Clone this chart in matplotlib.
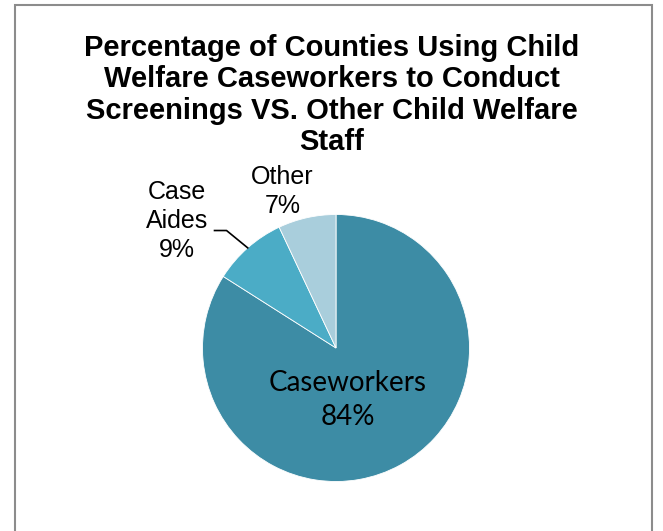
import numpy as np
import matplotlib
matplotlib.use("Agg")
from matplotlib import pyplot as plt
from matplotlib.patches import Rectangle

# data
labels = ["Caseworkers", "Case\nAides", "Other"]
values = [84, 9, 7]
colors = ["#3d8ca5", "#4bacc6", "#a9cedc"]

title = ("Percentage of Counties Using Child\nWelfare Caseworkers to Conduct\n"
         "Screenings VS. Other Child Welfare\nStaff")

W, H = 663, 531
fig = plt.figure(figsize=(W / 100, H / 100), dpi=100)

# chart frame
fig.patches.append(Rectangle((15 / W, -0.05), (652 - 15) / W, 1.05 - 5 / H,
                             transform=fig.transFigure, fill=False,
                             edgecolor="#8c8c8c", linewidth=1.5))

fig.text(0.5, 1 - 95 / H, title, ha="center", va="center", fontsize=21,
         fontweight="bold", family=["Liberation Sans", "DejaVu Sans"],
         linespacing=1.15)

# pie axes: center (336, 348) px, radius 133.5 px
cx, cy, r = 336, 348, 133.5
ax = fig.add_axes([(cx - r) / W, (H - cy - r) / H, 2 * r / W, 2 * r / H])
wedges, _ = ax.pie(values, colors=colors, startangle=90, counterclock=False,
                   wedgeprops=dict(linewidth=0.6, edgecolor="white"))
ax.set_xlim(-1, 1)
ax.set_ylim(-1, 1)
ax.set_axis_off()

# labels
ax.text(0.09, -0.26, labels[0], ha="center", va="center", fontsize=20,
        family=["Lato", "DejaVu Sans"])
ax.text(0.09, -0.52, f"{values[0]}%", ha="center", va="center", fontsize=20,
        family=["Lato", "DejaVu Sans"])

lab_font = dict(fontsize=18, family=["Liberation Sans", "DejaVu Sans"],
                ha="center", va="center", linespacing=1.25, clip_on=False)
ax.text(-1.19, 0.95, f"{labels[1]}\n{values[1]}%", **lab_font)
ax.text(-0.40, 1.17, f"{labels[2]}\n{values[2]}%", **lab_font)

# leader line for Case Aides
mid = np.deg2rad((wedges[1].theta1 + wedges[1].theta2) / 2)
x0, y0 = np.cos(mid), np.sin(mid)
ax.plot([x0, -0.82, -0.91], [y0, 0.88, 0.88], color="black", lw=1.2,
        clip_on=False)

fig.savefig("out.png", dpi=100)
